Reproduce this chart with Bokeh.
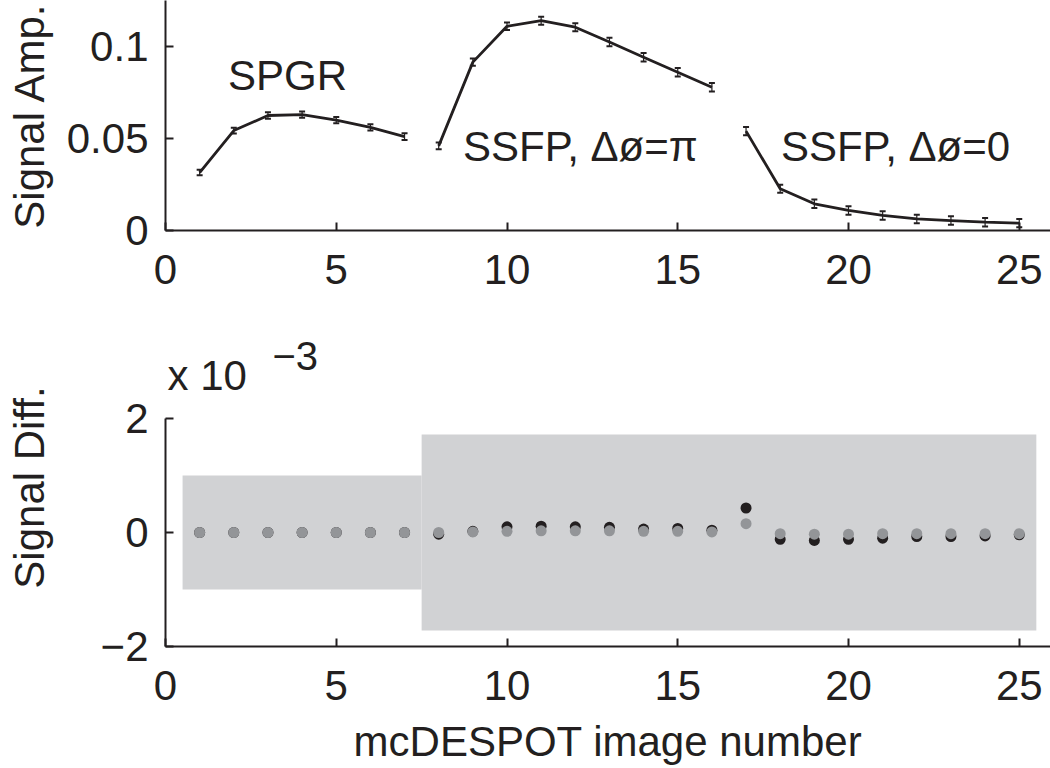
from bokeh.plotting import figure
from bokeh.layouts import column
from bokeh.models import Range1d, FixedTicker, Whisker, ColumnDataSource, Label, TeeHead
from bokeh.embed import file_html
from bokeh.resources import INLINE

# ---------------- data ----------------
img_spgr = [1, 2, 3, 4, 5, 6, 7]
amp_spgr = [0.0315, 0.0543, 0.0625, 0.0630, 0.0600, 0.0560, 0.0510]
img_ssfp_pi = [8, 9, 10, 11, 12, 13, 14, 15, 16]
amp_ssfp_pi = [0.0460, 0.0915, 0.1110, 0.1140, 0.1105, 0.1024, 0.0942, 0.0860, 0.0779]
img_ssfp_0 = [17, 18, 19, 20, 21, 22, 23, 24, 25]
amp_ssfp_0 = [0.0540, 0.0227, 0.0145, 0.0109, 0.0082, 0.0063, 0.0054, 0.0045, 0.0040]
amp_err = [0.0015, 0.0016, 0.0017, 0.0017, 0.0017, 0.0017, 0.0018,
           0.0018, 0.0020, 0.0021, 0.0022, 0.0022, 0.0023, 0.0023, 0.0023, 0.0023,
           0.0022, 0.0022, 0.0023, 0.0023, 0.0023, 0.0023, 0.0023, 0.0023, 0.0023]

img_all = list(range(1, 26))
# signal difference, units of 1e-3
diff_dark = [0, 0, 0, 0, 0, 0, 0, -0.03, 0.02, 0.10, 0.11, 0.10, 0.09, 0.06, 0.07, 0.04,
             0.43, -0.12, -0.14, -0.12, -0.10, -0.07, -0.07, -0.06, -0.04]
diff_gray = [0, 0, 0, 0, 0, 0, 0, 0, 0.01, 0.02, 0.03, 0.03, 0.03, 0.02, 0.02, 0.01,
             0.155, -0.02, -0.03, -0.03, -0.02, -0.02, -0.02, -0.02, -0.02]
band_left = [0.5, 7.5]
band_right = [7.5, 25.5]
band_half = [1.0, 1.72]

x_ticks = [0, 5, 10, 15, 20, 25]
amp_ticks = [0, 0.05, 0.1]
amp_tick_labels = {0: "0", 0.05: "0.05", 0.1: "0.1"}
diff_ticks = [-2, 0, 2]
diff_tick_labels = {-2: "\u22122", 0: "0", 2: "2"}

labels_top = ["SPGR", "SSFP, \u0394\u00f8=\u03c0", "SSFP, \u0394\u00f8=0"]
labels_x = [1.83, 8.71, 18.02]
labels_y = [0.0842, 0.0456, 0.0456]

# ---------------- style ----------------
FONT = "Liberation Sans"
INK = "#231f20"
FS = "42px"
W = 1050
LEFT = 165
PX_PER_X = 34.15
XMAX = (W - LEFT) / PX_PER_X


def style_axes(p):
    p.outline_line_color = None
    p.xgrid.visible = False
    p.ygrid.visible = False
    p.background_fill_color = "white"
    p.border_fill_color = "white"
    for ax in (p.xaxis[0], p.yaxis[0]):
        ax.axis_line_width = 2
        ax.axis_line_color = INK
        ax.major_tick_in = 8
        ax.major_tick_out = 0
        ax.major_tick_line_width = 2
        ax.major_tick_line_color = INK
        ax.minor_tick_line_color = None
        ax.major_label_text_font = FONT
        ax.major_label_text_font_size = FS
        ax.major_label_text_color = INK
        ax.axis_label_text_font = FONT
        ax.axis_label_text_font_size = FS
        ax.axis_label_text_font_style = "normal"
        ax.axis_label_text_color = INK
    p.xaxis[0].major_label_standoff = 24
    p.yaxis[0].major_label_standoff = 17


# ---------------- top panel ----------------
p1 = figure(width=W, height=328, output_backend="svg", toolbar_location=None,
            x_range=Range1d(0, XMAX), y_range=Range1d(0, 0.125),
            min_border_left=LEFT, min_border_right=0, min_border_top=0, min_border_bottom=98)
style_axes(p1)
p1.xaxis.ticker = FixedTicker(ticks=x_ticks)
p1.yaxis.ticker = FixedTicker(ticks=amp_ticks)
p1.yaxis.major_label_overrides = amp_tick_labels
p1.yaxis.axis_label = "Signal Amp."
p1.yaxis.axis_label_standoff = 11

amp_all = amp_spgr + amp_ssfp_pi + amp_ssfp_0
err_src = ColumnDataSource(dict(
    x=img_all,
    upper=[a + e for a, e in zip(amp_all, amp_err)],
    lower=[a - e for a, e in zip(amp_all, amp_err)],
))
wh = Whisker(base="x", upper="upper", lower="lower", source=err_src,
             line_color=INK, line_width=1.2,
             upper_head=TeeHead(size=6, line_width=2, line_color=INK),
             lower_head=TeeHead(size=6, line_width=2, line_color=INK))
p1.add_layout(wh)

for xs, ys in ((img_spgr, amp_spgr), (img_ssfp_pi, amp_ssfp_pi), (img_ssfp_0, amp_ssfp_0)):
    p1.line(xs, ys, line_color=INK, line_width=2.8)

for t, lx, ly in zip(labels_top, labels_x, labels_y):
    p1.add_layout(Label(x=lx, y=ly, text=t, text_font=FONT, text_font_size=FS,
                        text_color=INK, text_align="left", text_baseline="alphabetic"))

# ---------------- bottom panel ----------------
BOT_FRAME_H = 318
p2 = figure(width=W, height=440, output_backend="svg", toolbar_location=None,
            x_range=Range1d(0, XMAX), y_range=Range1d(-2, -2 + BOT_FRAME_H / 57.0),
            min_border_left=LEFT, min_border_right=0, min_border_top=0, min_border_bottom=122)
style_axes(p2)
p2.xaxis.ticker = FixedTicker(ticks=x_ticks)
p2.yaxis.ticker = FixedTicker(ticks=diff_ticks)
p2.yaxis.bounds = (-2, 2)
p2.yaxis.major_label_overrides = diff_tick_labels
p2.yaxis.axis_label = "Signal Diff."
p2.yaxis.axis_label_standoff = 45
p2.xaxis.axis_label = "mcDESPOT image number"
p2.xaxis.axis_label_standoff = 15

p2.quad(left=[band_left[0], band_right[0]], right=[band_left[1], band_right[1]],
        bottom=[-band_half[0], -band_half[1]], top=[band_half[0], band_half[1]],
        fill_color="#d1d2d4", line_color=None)
p2.scatter(img_all, diff_dark, size=11, fill_color=INK, line_color=None)
p2.scatter(img_all, diff_gray, size=11, fill_color="#939598", line_color=None)

p2.add_layout(Label(x=0.06, y=2.754, text="x 10", text_font=FONT, text_font_size=FS,
                    text_color=INK, text_align="left", text_baseline="alphabetic"))
p2.add_layout(Label(x=3.13, y=3.105, text="\u22123", text_font=FONT, text_font_size="40px",
                    text_color=INK, text_align="left", text_baseline="alphabetic"))

layout = column(p1, p2, spacing=0)
open("out.html", "w").write(file_html(layout, INLINE))
